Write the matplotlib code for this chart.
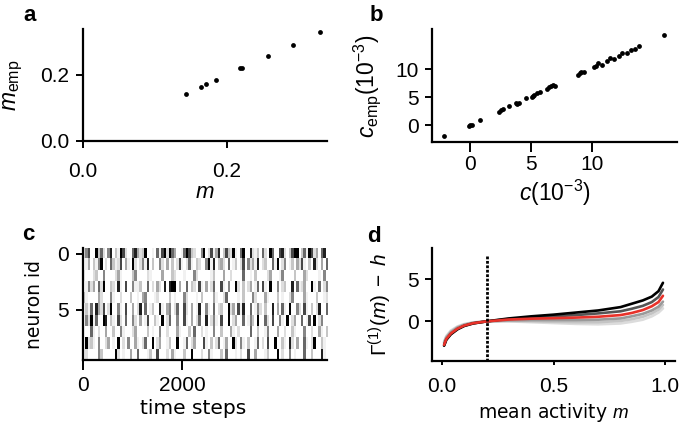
import numpy as np
import matplotlib
matplotlib.use("Agg")
import matplotlib.pyplot as plt

plt.rcParams['font.family'] = ['Liberation Sans', 'DejaVu Sans']
plt.rcParams['mathtext.fontset'] = 'custom'
plt.rcParams['mathtext.rm'] = 'Liberation Sans'
plt.rcParams['mathtext.it'] = 'Liberation Sans:italic'
plt.rcParams['mathtext.bf'] = 'Liberation Sans:bold'

# panel a: predicted vs empirical mean activity
m_pred = [0.1435, 0.164, 0.171, 0.185, 0.2187, 0.2215, 0.257, 0.2915, 0.3287]
m_emp = [0.143, 0.164, 0.173, 0.185, 0.220, 0.222, 0.258, 0.291, 0.330]

# panel b: predicted vs empirical covariances (units of 1e-3)
c_pred = [-2.18, -0.14, 0.0, 0.1, 0.76, 2.32, 2.54, 2.7, 3.17, 3.74, 3.96, 3.85,
          4.56, 5.05, 5.15, 5.23, 5.45, 5.72, 6.31, 6.45, 6.61, 6.8, 6.94,
          8.79, 8.95, 9.04, 9.31, 10.15, 10.3, 10.48, 10.76, 11.17, 11.44,
          11.79, 12.15, 12.4, 12.8, 13.15, 13.48, 13.78, 15.87]
c_emp = [-1.9, -0.12, 0.05, 0.1, 0.98, 2.4, 2.77, 2.9, 3.4, 4.0, 3.9, 3.8,
         4.8, 5.08, 5.2, 5.43, 5.79, 5.97, 6.56, 6.8, 7.1, 7.2, 7.1,
         9.05, 9.3, 9.5, 9.5, 10.4, 10.6, 11.1, 10.7, 11.45, 12.05,
         11.85, 12.4, 13.0, 12.9, 13.5, 13.6, 14.1, 16.1]

# panel c: raster of activity, 10 neurons, intensity 0 (silent) .. 9
raster_rows = [
    "2570093620580319720068423900106179296400169732005902714803732910690082130620960078203799036197240680",
    "0140315902063127041092025180300520403027102610320059180342060130270524180230061902501304271030820406",
    "1000230050000241000035000021000040003200010005200000130004002000060010300002400015000030004200001050",
    "0152406290032081070051130060204208089904006032071040260071050092030240160710900502300806124009106025",
    "3100004200051002000300104500012000030100052000103000041002600001030005200041000301002500004100030012",
    "0316084270290051070040280601300810450260072040180051060230092407180060152030080406109005207103028006",
    "0529160098031072060052040170031090260050071040260080251070090240060153090062070051090240060170902500",
    "0006102004003005100024000030100500200041000306002010050030004102000060030015000400200310005002004103",
    "0923105002401090205004102600902400130090016024000710302601400920510300160207009003108204006102900310",
    "1200005300000920100400600013007000204100030090002005100030600010200700400013000902005010006003000810",
]
n_steps = 4930

# panel d: Gamma^(1)(m) - h for several couplings
m_grid = [0.01, 0.02, 0.04, 0.07, 0.1, 0.14, 0.2, 0.3, 0.4, 0.5, 0.6, 0.7,
          0.8, 0.85, 0.9, 0.94, 0.97, 0.99]
gamma_curves = {
    '#dcdcdc': [-2.4, -1.75, -1.1, -0.6, -0.32, -0.12, 0, 0.0, -0.1, -0.2, -0.3,
                -0.35, -0.25, -0.05, 0.2, 0.6, 1.05, 1.55],
    '#c4c4c4': [-2.5, -1.85, -1.2, -0.68, -0.38, -0.15, 0, 0.05, 0.02, -0.05,
                -0.1, -0.1, 0.05, 0.25, 0.55, 0.95, 1.4, 1.95],
    '#9a9a9a': [-2.6, -1.95, -1.3, -0.75, -0.42, -0.18, 0, 0.12, 0.15, 0.15,
                0.15, 0.2, 0.35, 0.6, 0.9, 1.3, 1.75, 2.35],
    '#555555': [-2.85, -2.15, -1.5, -0.9, -0.52, -0.23, 0, 0.28, 0.45, 0.6,
                0.75, 0.95, 1.2, 1.5, 1.85, 2.3, 2.9, 3.8],
    '#000000': [-2.9, -2.2, -1.55, -0.95, -0.55, -0.25, 0, 0.35, 0.6, 0.8,
                1.05, 1.3, 1.7, 2.1, 2.5, 2.95, 3.6, 4.6],
    '#e8322a': [-2.8, -2.1, -1.45, -0.87, -0.5, -0.22, 0, 0.22, 0.32, 0.38,
                0.45, 0.55, 0.75, 1.0, 1.35, 1.8, 2.3, 3.05],
}
m_star = 0.2

tick_size = 15
label_font = ['DejaVu Sans']

fig = plt.figure(figsize=(6.8, 4.29), dpi=100)
ax_a = fig.add_axes([0.122, 0.672, 0.359, 0.260])
ax_b = fig.add_axes([0.636, 0.668, 0.359, 0.264])
ax_c = fig.add_axes([0.122, 0.160, 0.359, 0.262])
ax_d = fig.add_axes([0.636, 0.159, 0.357, 0.262])

for ax in (ax_a, ax_b, ax_c, ax_d):
    ax.spines['top'].set_visible(False)
    ax.spines['right'].set_visible(False)
    ax.spines['left'].set_linewidth(1.6)
    ax.spines['bottom'].set_linewidth(1.6)
    ax.tick_params(width=1.4, length=5, labelsize=tick_size, pad=5)

# a
ax_a.scatter(m_pred, m_emp, s=12, color='black', linewidths=0)
ax_a.set_xlim(0, 0.339)
ax_a.set_ylim(0, 0.339)
ax_a.set_xticks([0.0, 0.2])
ax_a.set_yticks([0.0, 0.2])
ax_a.set_xticklabels(['0.0', '0.2'])
ax_a.set_yticklabels(['0.0', '0.2'])
ax_a.tick_params(axis='x', pad=10)
ax_a.set_xlabel('$m$', fontsize=16)
ax_a.set_ylabel(r'$m_{\rm emp}$', fontsize=16.5)
ax_a.xaxis.set_label_coords(0.5, -0.37)
ax_a.yaxis.set_label_coords(-0.238, 0.5)

# b
ax_b.scatter(c_pred, c_emp, s=12, color='black', linewidths=0)
ax_b.set_xlim(-3.1, 16.9)
ax_b.set_ylim(-3.1, 17.2)
ax_b.set_xticks([0, 5, 10])
ax_b.set_yticks([0, 5, 10])
ax_b.tick_params(axis='x', length=7, pad=2)
ax_b.set_xlabel(r'$c(10^{-3})$', fontsize=16.5)
ax_b.set_ylabel(r'$c_{\rm emp}(10^{-3})$', fontsize=16.5)
ax_b.xaxis.set_label_coords(0.5, -0.31)
ax_b.yaxis.set_label_coords(-0.204, 0.5)

# c
raster = np.array([[int(ch) for ch in row] for row in raster_rows])
ax_c.imshow(raster, cmap='Greys', vmin=0, vmax=9, aspect='auto',
            interpolation='nearest', extent=[0, n_steps, 9.5, -0.5])
ax_c.set_xlim(0, n_steps)
ax_c.set_ylim(9.5, -0.5)
ax_c.set_xticks([0, 2000])
ax_c.set_yticks([0, 5])
ax_c.tick_params(axis='x', length=7.5, pad=4)
ax_c.set_xlabel('time steps', fontsize=14.5, family=label_font)
ax_c.set_ylabel('neuron id', fontsize=13.5, family=label_font)
ax_c.xaxis.set_label_coords(0.45, -0.34)
ax_c.yaxis.set_label_coords(-0.16, 0.5)

# d
for col, vals in gamma_curves.items():
    ax_d.plot(m_grid, vals, color=col, lw=1.9, solid_capstyle='round')
ax_d.axvline(m_star, ymin=0, ymax=0.94, color='black', lw=2.0,
             linestyle=(0, (1, 0.6)))
ax_d.set_xlim(-0.042, 1.045)
ax_d.set_ylim(-4.7, 8.7)
ax_d.set_xticks([0.0, 0.5, 1.0])
ax_d.set_yticks([0, 5])
ax_d.tick_params(axis='x', length=3, pad=9)
ax_d.set_xlabel('mean activity $m$', fontsize=13.5, family=label_font)
ax_d.set_ylabel(r'$\Gamma^{(1)}(m)\;-\;h$', fontsize=15)
ax_d.xaxis.set_label_coords(0.5, -0.36)
ax_d.yaxis.set_label_coords(-0.158, 0.5)

# panel letters
for x, y, s in [(0.034, 0.952, 'a'), (0.543, 0.952, 'b'),
                (0.032, 0.441, 'c'), (0.540, 0.437, 'd')]:
    fig.text(x, y, s, fontsize=16, fontweight='bold', va='baseline')

plt.savefig("out.png", dpi=100)
